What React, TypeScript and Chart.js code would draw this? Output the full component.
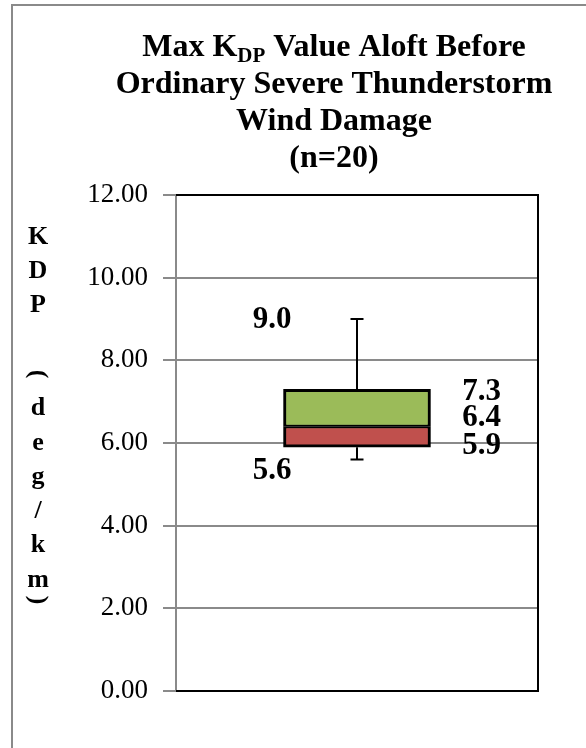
import React, { useEffect, useRef } from "react";
import { Chart, registerables } from "chart.js";

Chart.register(...registerables);

// ---- data ----
const categories = ["Ordinary Severe Thunderstorm Wind Damage"];
const minValues = [5.6];
const q1Values = [5.9];
const medianValues = [6.4];
const q3Values = [7.3];
const maxValues = [9.0];
const yTickValues = [0, 2, 4, 6, 8, 10, 12];
const titleLine1 = ["Max K", "DP", " Value Aloft Before"];
const titleLines = ["Ordinary Severe Thunderstorm", "Wind Damage", "(n=20)"];
const yAxisTitle = "KDP (deg/km)";

const SERIF = "'Liberation Serif', 'Times New Roman', serif";

const boxPlotPlugin = {
  id: "boxPlotExtras",
  beforeDraw(chart: any) {
    const ctx = chart.ctx;
    ctx.save();
    ctx.strokeStyle = "#8a8a8a";
    ctx.lineWidth = 2;
    ctx.beginPath();
    ctx.moveTo(12, 748);
    ctx.lineTo(12, 5);
    ctx.lineTo(586, 5);
    ctx.stroke();
    ctx.restore();
  },
  beforeDatasetsDraw(chart: any) {
    const ctx = chart.ctx;
    const y = chart.scales.y;
    const x = chart.scales.x;
    ctx.save();
    ctx.strokeStyle = "#000";
    ctx.lineWidth = 2;
    categories.forEach((_, i) => {
      const cx = x.getPixelForValue(i);
      const yMax = y.getPixelForValue(maxValues[i]);
      const yQ3 = y.getPixelForValue(q3Values[i]);
      const yQ1 = y.getPixelForValue(q1Values[i]);
      const yMin = y.getPixelForValue(minValues[i]);
      ctx.beginPath();
      ctx.moveTo(cx, yQ3);
      ctx.lineTo(cx, yMax);
      ctx.moveTo(cx - 6.5, yMax);
      ctx.lineTo(cx + 6.5, yMax);
      ctx.moveTo(cx, yQ1);
      ctx.lineTo(cx, yMin);
      ctx.moveTo(cx - 6.5, yMin);
      ctx.lineTo(cx + 6.5, yMin);
      ctx.stroke();
    });
    ctx.restore();
  },
  afterDraw(chart: any) {
    const ctx = chart.ctx;
    const area = chart.chartArea;
    const y = chart.scales.y;
    const x = chart.scales.x;
    ctx.save();
    // plot border (top, right, bottom)
    ctx.strokeStyle = "#000";
    ctx.lineWidth = 2;
    ctx.beginPath();
    ctx.moveTo(area.left, area.top);
    ctx.lineTo(area.right, area.top);
    ctx.lineTo(area.right, area.bottom);
    ctx.lineTo(area.left, area.bottom);
    ctx.stroke();

    // title
    ctx.fillStyle = "#000";
    ctx.textBaseline = "alphabetic";
    const big = "bold 32px " + SERIF;
    const small = "bold 21px " + SERIF;
    const titleCx = 334;
    ctx.font = big;
    const w1 = ctx.measureText(titleLine1[0]).width;
    const w3 = ctx.measureText(titleLine1[2]).width;
    ctx.font = small;
    const w2 = ctx.measureText(titleLine1[1]).width;
    let tx = titleCx - (w1 + w2 + w3) / 2;
    ctx.textAlign = "left";
    ctx.font = big;
    ctx.fillText(titleLine1[0], tx, 56);
    tx += w1;
    ctx.font = small;
    ctx.fillText(titleLine1[1], tx, 62);
    tx += w2;
    ctx.font = big;
    ctx.fillText(titleLine1[2], tx, 56);
    ctx.textAlign = "center";
    titleLines.forEach((line, i) => {
      ctx.fillText(line, titleCx, 93 + i * 37);
    });

    // y-axis title, stacked characters
    ctx.font = "bold 26px " + SERIF;
    ctx.textAlign = "center";
    ctx.textBaseline = "middle";
    const chars = yAxisTitle.split("");
    chars.forEach((ch, i) => {
      let cy = 237 + i * 34.3;
      if (ch === " ") return;
      if (ch === "(" || ch === ")") {
        cy = ch === "(" ? 374 : 600;
        ctx.save();
        ctx.translate(38, cy);
        ctx.rotate(Math.PI / 2);
        ctx.fillText(ch, 0, 0);
        ctx.restore();
      } else {
        ctx.fillText(ch, 38, cy);
      }
    });

    // value labels
    ctx.font = "bold 31px " + SERIF;
    ctx.textAlign = "center";
    ctx.textBaseline = "middle";
    categories.forEach((_, i) => {
      const cx = x.getPixelForValue(i);
      const meta = chart.getDatasetMeta(0).data[i];
      const half = meta ? meta.width / 2 : 73;
      const leftX = cx - 85;
      const rightX = cx + half + 51;
      ctx.fillText(maxValues[i].toFixed(1), leftX, y.getPixelForValue(maxValues[i]) + 1);
      ctx.fillText(minValues[i].toFixed(1), leftX, y.getPixelForValue(minValues[i]) + 11);
      ctx.fillText(q3Values[i].toFixed(1), rightX, y.getPixelForValue(q3Values[i]) + 3);
      ctx.fillText(medianValues[i].toFixed(1), rightX, y.getPixelForValue(medianValues[i]) - 8);
      ctx.fillText(q1Values[i].toFixed(1), rightX, y.getPixelForValue(q1Values[i]) - 1);
    });
    ctx.restore();
  },
};

export default function App() {
  const canvasRef = useRef<HTMLCanvasElement | null>(null);

  useEffect(() => {
    if (!canvasRef.current) return;
    const chart = new Chart(canvasRef.current, {
      type: "bar",
      data: {
        labels: categories,
        datasets: [
          {
            label: "Q1 to Median",
            data: categories.map((_, i) => [q1Values[i], medianValues[i]]) as any,
            backgroundColor: "#C0504D",
            borderColor: "#000",
            borderWidth: { top: 2, bottom: 3, left: 3, right: 3 } as any,
            borderSkipped: false,
            barThickness: 147,
            grouped: false,
          } as any,
          {
            label: "Median to Q3",
            data: categories.map((_, i) => [medianValues[i], q3Values[i]]) as any,
            backgroundColor: "#9BBB59",
            borderColor: "#000",
            borderWidth: { top: 3, bottom: 2, left: 3, right: 3 } as any,
            borderSkipped: false,
            barThickness: 147,
            grouped: false,
          } as any,
        ],
      },
      options: {
        responsive: false,
        animation: false,
        layout: { padding: { left: 0, top: 195, right: 48, bottom: 57 } },
        plugins: {
          legend: { display: false },
          title: { display: false },
          tooltip: { enabled: false },
        },
        scales: {
          x: { display: false },
          y: {
            min: yTickValues[0],
            max: yTickValues[yTickValues.length - 1],
            afterFit: (scale: any) => {
              scale.width = 176;
            },
            afterBuildTicks: (scale: any) => {
              scale.ticks = yTickValues.map((v) => ({ value: v }));
            },
            ticks: {
              color: "#000",
              font: { family: SERIF, size: 27 },
              padding: 15,
              callback: (v: any) => Number(v).toFixed(2),
            },
            grid: {
              color: "#8a8a8a",
              lineWidth: 2,
              tickLength: 13,
              tickColor: "#8a8a8a",
            },
            border: { color: "#8a8a8a", width: 2 },
          },
        },
      },
      plugins: [boxPlotPlugin],
    });
    return () => chart.destroy();
  }, []);

  return (
    <div style={{ position: "absolute", left: 0, top: 0, width: 586, height: 748 }}>
      <canvas ref={canvasRef} width={586} height={748} />
    </div>
  );
}
